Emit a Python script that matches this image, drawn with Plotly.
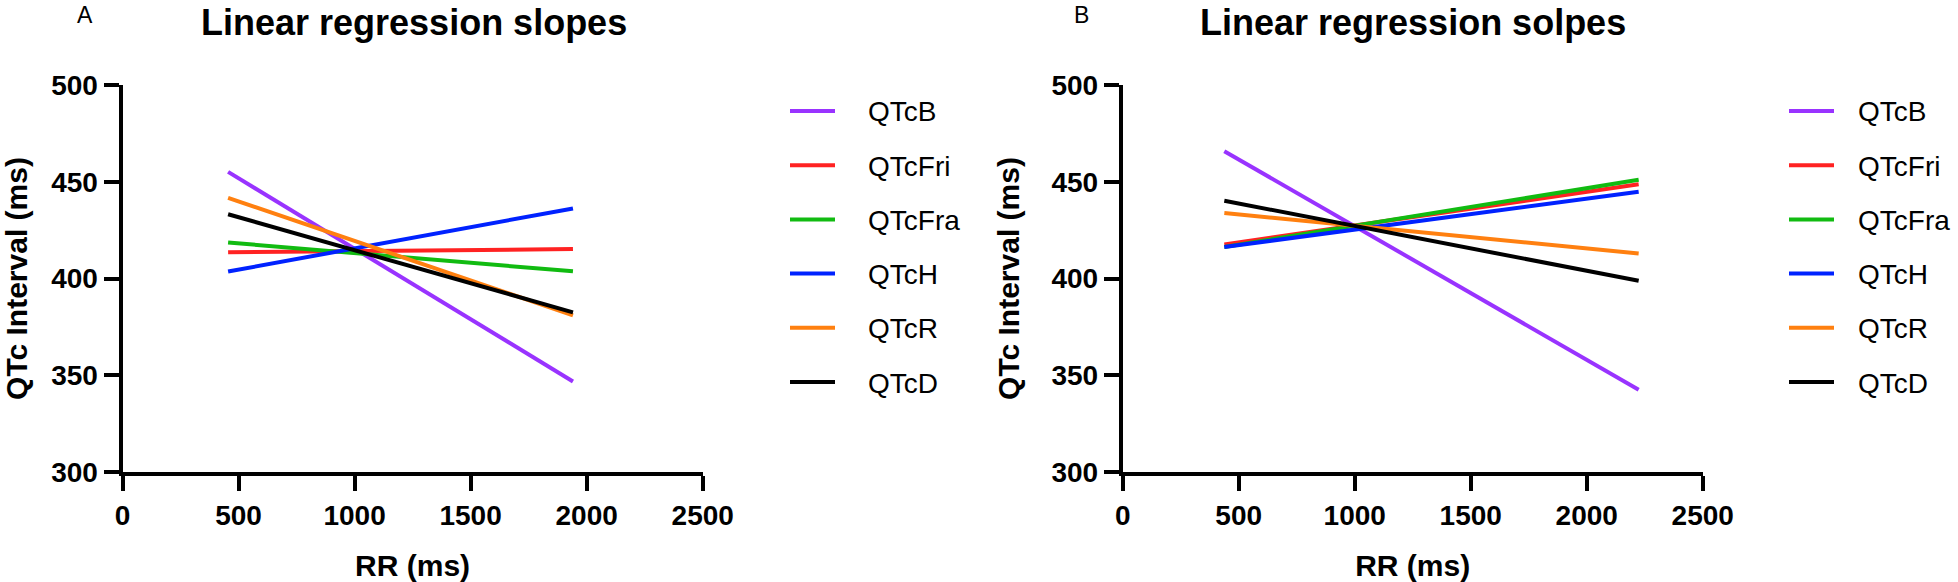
import plotly.graph_objects as go

series = ["QTcB", "QTcFri", "QTcFra", "QTcH", "QTcR", "QTcD"]
colors = ["#9933FF", "#FF2222", "#11BB11", "#0022FF", "#FF8010", "#000000"]

# Panel A: RR range and fitted QTc at the two ends
rr_a = [455, 1941]
qtc_a = {
    "QTcB": [455.1, 346.8],
    "QTcFri": [413.6, 415.2],
    "QTcFra": [418.6, 403.7],
    "QTcH": [403.6, 436.2],
    "QTcR": [441.7, 381.0],
    "QTcD": [433.2, 382.5],
}

# Panel B
rr_b = [438, 2224]
qtc_b = {
    "QTcB": [465.8, 342.5],
    "QTcFri": [417.6, 448.7],
    "QTcFra": [416.3, 451.0],
    "QTcH": [416.3, 444.8],
    "QTcR": [433.8, 412.9],
    "QTcD": [440.2, 398.8],
}

titles = ["Linear regression slopes", "Linear regression solpes"]
panel_letters = ["A", "B"]
x_ticks = [0, 500, 1000, 1500, 2000, 2500]
y_ticks = [300, 350, 400, 450, 500]

W, H = 1958, 582
FONT = "Liberation Sans, Arial, sans-serif"

fig = go.Figure()

for name, col in zip(series, colors):
    fig.add_trace(go.Scatter(x=rr_a, y=qtc_a[name], mode="lines", name=name,
                             line=dict(color=col, width=4), showlegend=False,
                             xaxis="x", yaxis="y"))
for name, col in zip(series, colors):
    fig.add_trace(go.Scatter(x=rr_b, y=qtc_b[name], mode="lines", name=name,
                             line=dict(color=col, width=4), showlegend=False,
                             xaxis="x2", yaxis="y2"))

def px(v):
    return v / W

def py(v):
    return 1 - v / H

ydom = [py(472), py(85)]
axis_common = dict(
    showline=True, linewidth=4, linecolor="black", mirror=False,
    ticks="outside", ticklen=15, tickwidth=4, tickcolor="black",
    showgrid=False, zeroline=False, automargin=False,
    tickfont=dict(family=FONT, size=28, color="black", weight="bold"),
)
xtitle = dict(text="RR (ms)", standoff=26,
              font=dict(family=FONT, size=30, color="black", weight="bold"))
ytitle = dict(text="QTc Interval (ms)", standoff=24,
              font=dict(family=FONT, size=30, color="black", weight="bold"))

fig.update_layout(
    template="none",
    width=W, height=H,
    margin=dict(l=0, r=0, t=0, b=0, pad=0),
    paper_bgcolor="white", plot_bgcolor="white",
    xaxis=dict(domain=[px(122.5), px(702.7)], range=[0, 2500], tickvals=x_ticks,
               anchor="y", title=xtitle, **axis_common),
    yaxis=dict(domain=ydom, range=[300, 500], tickvals=y_ticks, anchor="x",
               title=ytitle, **axis_common),
    xaxis2=dict(domain=[px(1122.7), px(1702.7)], range=[0, 2500], tickvals=x_ticks,
                anchor="y2", title=xtitle, **axis_common),
    yaxis2=dict(domain=ydom, range=[300, 500], tickvals=y_ticks, anchor="x2",
                title=ytitle, **axis_common),
    showlegend=False,
)

annotations = []
shapes = []
for letter, tx, title, cx in zip(panel_letters, [85, 1081], titles, [414, 1413]):
    annotations.append(dict(text=letter, x=px(tx), y=1, xref="paper", yref="paper",
                            xanchor="center", yanchor="top", showarrow=False,
                            font=dict(family=FONT, size=23, color="black")))
    annotations.append(dict(text=title, x=px(cx), y=1, xref="paper", yref="paper",
                            xanchor="center", yanchor="top", showarrow=False,
                            font=dict(family=FONT, size=36, color="black", weight="bold")))

# Legends (one per panel), built from the series names and colours
for left, text_x in [(790, 866), (1789, 1856)]:
    for i, (name, col) in enumerate(zip(series, colors)):
        yy = 111 + i * 54.2
        shapes.append(dict(type="line", xref="paper", yref="paper",
                           x0=px(left), x1=px(left + 45), y0=py(yy), y1=py(yy),
                           line=dict(color=col, width=4)))
        annotations.append(dict(text=name, x=px(text_x), y=py(yy + 1),
                                xref="paper", yref="paper", xanchor="left",
                                yanchor="middle", showarrow=False,
                                font=dict(family=FONT, size=28, color="black")))

fig.update_layout(annotations=annotations, shapes=shapes)

fig.write_html("out.html", config={"displayModeBar": False},
               post_script="document.body.style.margin='0';document.body.style.overflow='hidden';")
